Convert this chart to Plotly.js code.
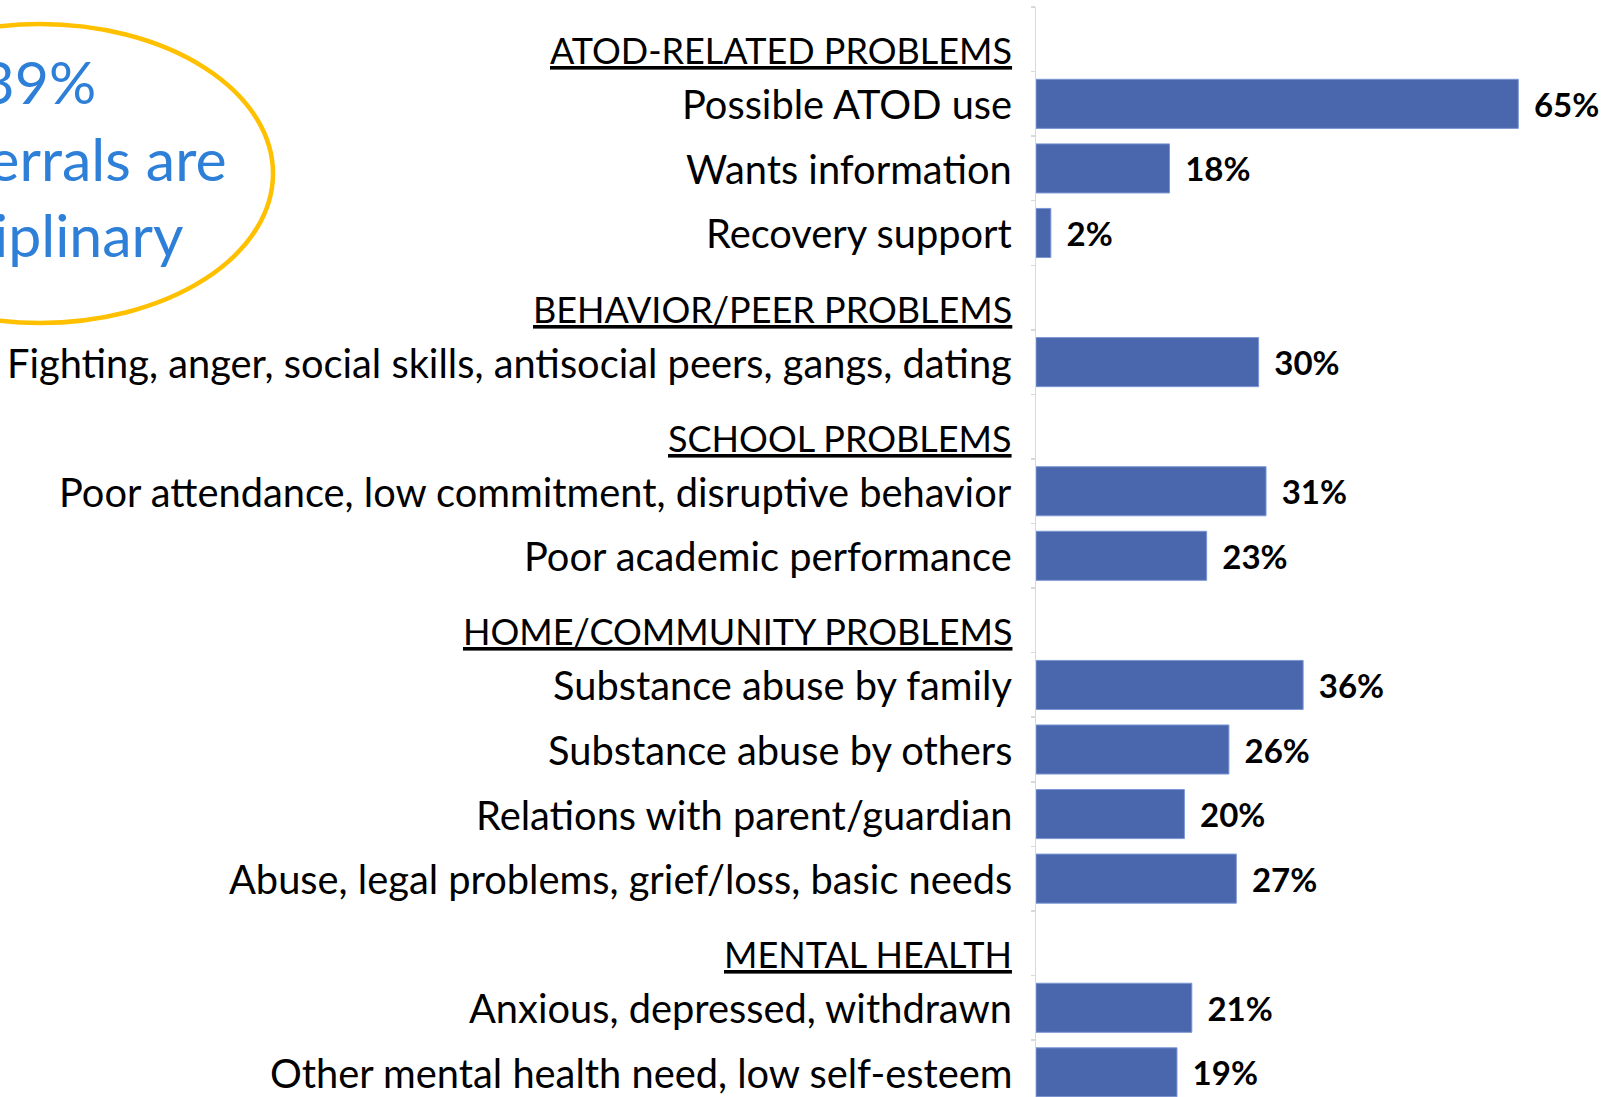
<!DOCTYPE html>
<html>
<head>
<meta charset="utf-8">
<script src="https://cdn.plot.ly/plotly-3.0.1.min.js"></script>
<style>
  html, body { margin: 0; padding: 0; background: #ffffff; }
  #chart { width: 1617px; height: 1097px; }
</style>
</head>
<body>
<div id="chart"></div>
<script>
// ---- Data ----
const categories = [
  'ATOD-RELATED PROBLEMS',
  'Possible ATOD use',
  'Wants information',
  'Recovery support',
  'BEHAVIOR/PEER PROBLEMS',
  'Fighting, anger, social skills, antisocial peers, gangs, dating',
  'SCHOOL PROBLEMS',
  'Poor attendance, low commitment, disruptive behavior',
  'Poor academic performance',
  'HOME/COMMUNITY PROBLEMS',
  'Substance abuse by family',
  'Substance abuse by others',
  'Relations with parent/guardian',
  'Abuse, legal problems, grief/loss, basic needs',
  'MENTAL HEALTH',
  'Anxious, depressed, withdrawn',
  'Other mental health need, low self-esteem'
];
const headerRows = [
  'ATOD-RELATED PROBLEMS',
  'BEHAVIOR/PEER PROBLEMS',
  'SCHOOL PROBLEMS',
  'HOME/COMMUNITY PROBLEMS',
  'MENTAL HEALTH'
];
const percentValues = [null, 65, 18, 2, null, 30, null, 31, 23, null, 36, 26, 20, 27, null, 21, 19];
const calloutLines = ['39%', 'of referrals are', 'disciplinary'];

// ---- Layout geometry ----
const W = 1617, H = 1097;
const M = { l: 1036, r: 0, t: 7, b: 0 };
const plotW = W - M.l - M.r, plotH = H - M.t - M.b;
const px2x = p => (p - M.l) / plotW;
const px2y = p => (H - M.b - p) / plotH;

const itemFont = { family: 'Lato, sans-serif', size: 39.8, color: '#000000' };
const headFont = { family: 'Lato, sans-serif', size: 36, color: '#000000' };

const annotations = categories.map(c => {
  const isHead = headerRows.includes(c);
  return {
    x: 0, xref: 'paper', y: c, yref: 'y',
    xanchor: 'right', yanchor: 'middle',
    xshift: -22, yshift: isHead ? -11 : 0,
    text: isHead ? '<u>' + c + '</u>' : c,
    showarrow: false, font: isHead ? headFont : itemFont
  };
});

annotations.push({
  x: px2x(38), xref: 'paper', y: px2y(158), yref: 'paper',
  xanchor: 'center', yanchor: 'middle', align: 'center',
  text: calloutLines.join('<br>'),
  showarrow: false,
  font: { family: 'Lato, sans-serif', size: 59, color: '#2E7FD7' }
});

const trace = {
  type: 'bar',
  orientation: 'h',
  y: categories,
  x: percentValues,
  marker: { color: '#4A66AC', line: { color: '#7C97D4', width: 1 } },
  texttemplate: '<span style="font-size:26px">\u00a0\u00a0</span>%{x}%',
  textposition: 'outside',
  textangle: 0,
  cliponaxis: false,
  textfont: { family: 'Lato, sans-serif', size: 33, color: '#000000', weight: 'bold' },
  hoverinfo: 'skip'
};

const layout = {
  width: W, height: H,
  margin: { l: M.l, r: M.r, t: M.t, b: M.b, pad: 0 },
  paper_bgcolor: '#ffffff', plot_bgcolor: '#ffffff',
  showlegend: false,
  bargap: 0.24,
  xaxis: {
    range: [0, 78.3], visible: false, showgrid: false, zeroline: false, fixedrange: true
  },
  yaxis: {
    type: 'category',
    categoryorder: 'array', categoryarray: categories,
    range: [16.382, -0.5], autorange: false,
    showline: true, linecolor: '#D9D9D9', linewidth: 1.5,
    ticks: 'outside', ticklen: 4, tickwidth: 1.5, tickcolor: '#D9D9D9',
    tickson: 'boundaries',
    showticklabels: false, showgrid: false, zeroline: false, fixedrange: true
  },
  shapes: [{
    type: 'circle', xref: 'paper', yref: 'paper',
    x0: px2x(-193), x1: px2x(273), y0: px2y(323), y1: px2y(24),
    line: { color: '#FFC000', width: 4.5 }, fillcolor: 'rgba(0,0,0,0)', layer: 'above'
  }],
  annotations: annotations
};

Plotly.newPlot('chart', [trace], layout, { displayModeBar: false, staticPlot: true });
</script>
</body>
</html>
